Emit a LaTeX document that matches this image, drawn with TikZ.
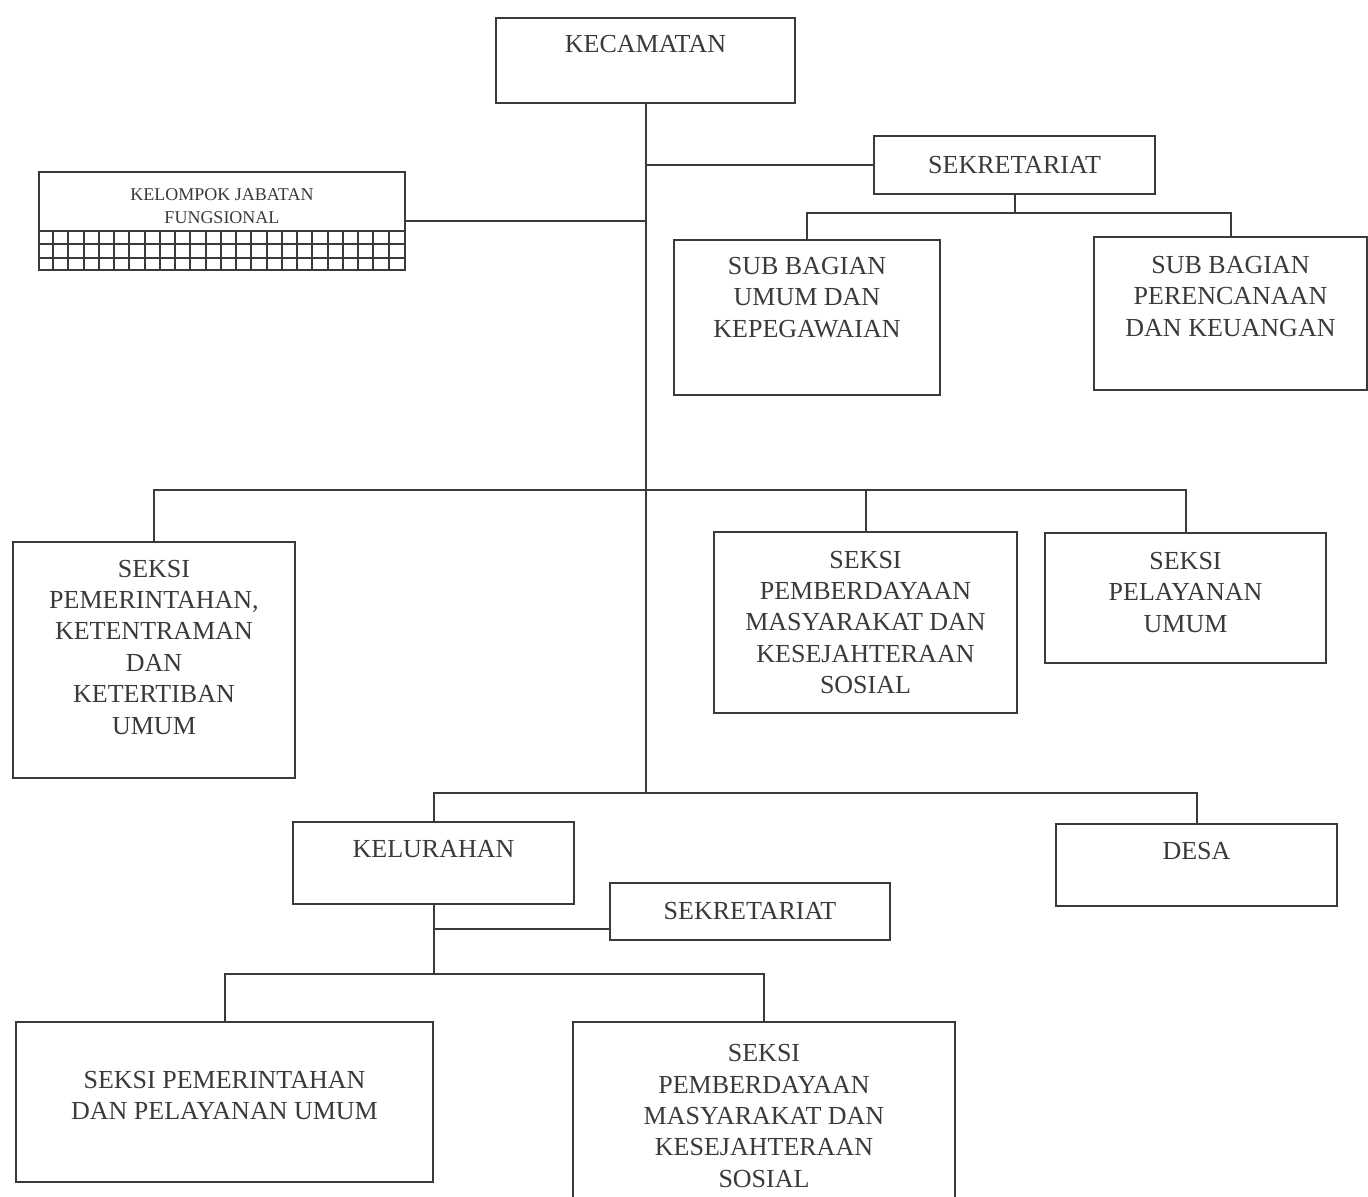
\documentclass[tikz,border=0pt]{standalone}
\usepackage{fontspec}
\setmainfont{Liberation Serif}
\usepackage{tikz}
\usetikzlibrary{calc,positioning}
\definecolor{inkgray}{HTML}{3A3A3A}
\newcommand{\pushup}[1]{\rule[-#1]{0pt}{#1}}

\begin{document}
\begin{tikzpicture}[x=0.5pt, y=-0.5pt,
    box/.style={rectangle, draw=inkgray, line width=1.1pt, fill=white, text=inkgray,
        font=\fontsize{13}{15.7}\selectfont, align=center, inner sep=0pt},
    smallbox/.style={box, font=\fontsize{9}{11.5}\selectfont},
    link/.style={draw=inkgray, line width=1pt}
]
\useasboundingbox (0,0) rectangle (1368,1197);

% kecamatan level
\node[box, minimum width=149.5pt, minimum height=42.5pt] (kec) at (645.5,60.5) {KECAMATAN\pushup{16.5pt}};
\node[box, minimum width=140.5pt, minimum height=29pt] (sek1) at (1014.5,165) {SEKRETARIAT};
\node[smallbox, minimum width=183pt, minimum height=49pt] (kjf) at (222,221) {KELOMPOK JABATAN\\FUNGSIONAL\pushup{14.5pt}};
\node[box, minimum width=133pt, minimum height=77.5pt] (sbu) at (807,317.5) {SUB BAGIAN\\UMUM DAN\\KEPEGAWAIAN\pushup{20.5pt}};
\node[box, minimum width=136.5pt, minimum height=76.5pt] (sbp) at (1230.5,313.5) {SUB BAGIAN\\PERENCANAAN\\DAN KEUANGAN\pushup{17.5pt}};

% seksi
\node[box, minimum width=141pt, minimum height=118pt] (spk) at (154,660) {SEKSI\\PEMERINTAHAN,\\KETENTRAMAN\\DAN\\KETERTIBAN\\UMUM\pushup{13pt}};
\node[box, minimum width=151.5pt, minimum height=90.5pt] (spm) at (865.5,622.5) {SEKSI\\PEMBERDAYAAN\\MASYARAKAT DAN\\KESEJAHTERAAN\\SOSIAL};
\node[box, minimum width=140.5pt, minimum height=65pt] (spu) at (1185.5,598) {SEKSI\\PELAYANAN\\UMUM\pushup{6pt}};

% kelurahan / desa
\node[box, minimum width=140.5pt, minimum height=41pt] (kel) at (433.5,863) {KELURAHAN\pushup{14pt}};
\node[box, minimum width=140.5pt, minimum height=41pt] (desa) at (1196.5,865) {DESA\pushup{14pt}};
\node[box, minimum width=140pt, minimum height=28.5pt] (sek2) at (750,911.5) {SEKRETARIAT};
\node[box, minimum width=208.5pt, minimum height=80pt] (kpp) at (224.5,1102) {SEKSI PEMERINTAHAN\\DAN PELAYANAN UMUM\pushup{6.5pt}};
\node[box, minimum width=191pt, minimum height=94pt] (kpm) at (764,1116) {SEKSI\\PEMBERDAYAAN\\MASYARAKAT DAN\\KESEJAHTERAAN\\SOSIAL};

% grid under kelompok jabatan fungsional
\foreach \i in {1,2,3}
    \draw[link] ($(kjf.south west)+(0,-\i*13.33)$) -- ($(kjf.south east)+(0,-\i*13.33)$);
\foreach \i in {1,...,23}
    \draw[link] ($(kjf.south west)+(\i*15.25,0)$) -- ++(0,-40);

% connectors
\coordinate (midbar) at (645.5,490);
\coordinate (lowbar) at (645.5,793);
\draw[link] (kec.south) -- (lowbar);
\draw[link] (sek1.west) -- (sek1.west -| kec.south);
\draw[link] (kjf.east) -- (kjf.east -| kec.south);
\draw[link] (sek1.south) -- ++(0,18) -| (sbu.north);
\draw[link] (sek1.south) ++(0,18) -| (sbp.north);
\draw[link] (spk.north) |- (midbar) -| (spu.north);
\draw[link] (spm.north) -- (spm.north |- midbar);
\draw[link] (kel.north) |- (lowbar) -| (desa.north);
\coordinate (kelhub) at ($(kel.south)+(0,69)$);
\coordinate (sekjoin) at ($(sek2.south west)+(0,-12)$);
\draw[link] (kel.south) -- (kelhub);
\draw[link] (sekjoin) -- (sekjoin -| kel.south);
\draw[link] (kpp.north) |- (kelhub) -| (kpm.north);
\end{tikzpicture}
\end{document}
